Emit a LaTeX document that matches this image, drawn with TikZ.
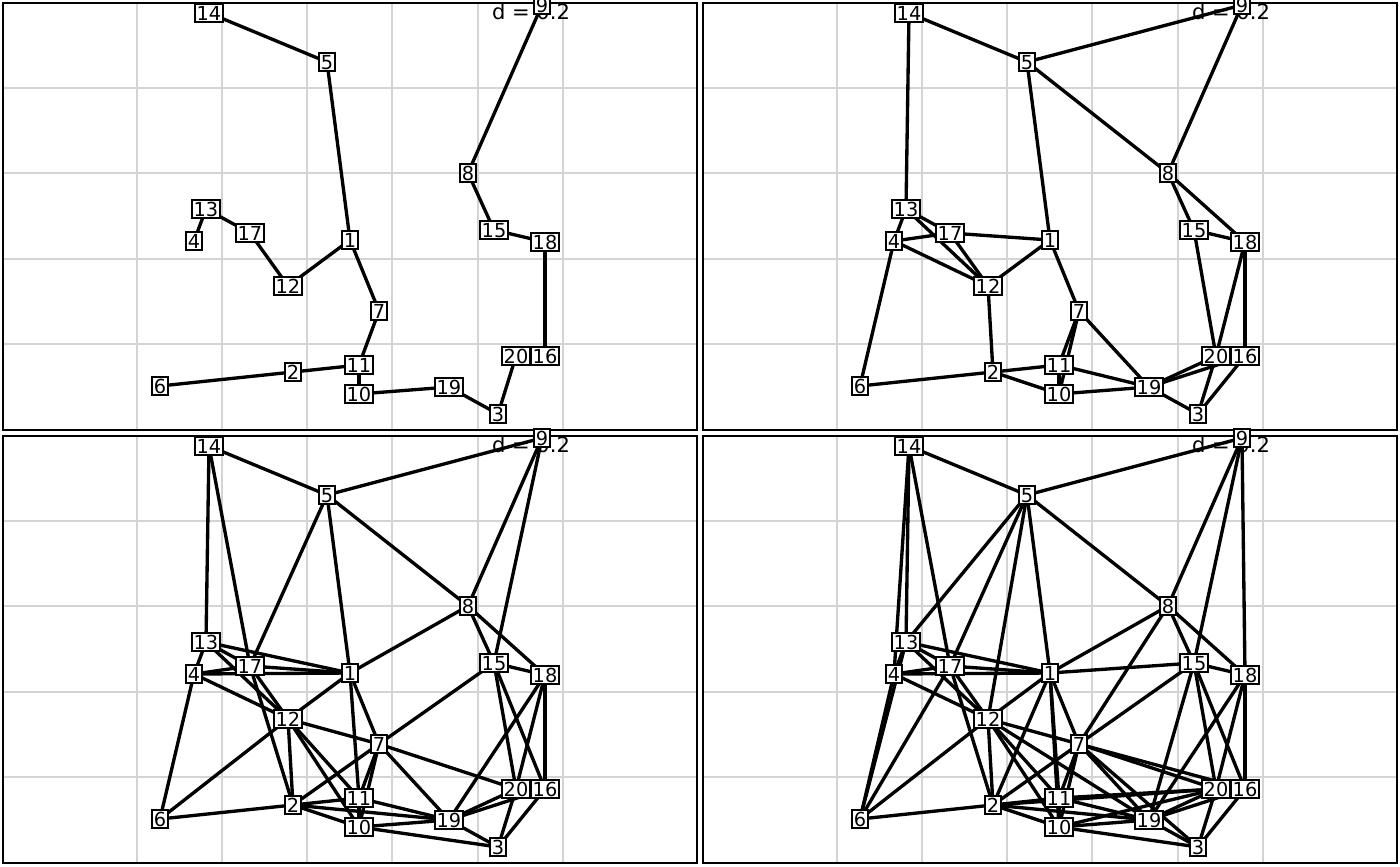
\documentclass[tikz,border=0pt]{standalone}
\usepackage{fontspec}
\setmainfont{DejaVu Sans}
\pgfdeclarelayer{bgl}
\pgfdeclarelayer{edgel}
\pgfsetlayers{bgl,edgel,main}
\tikzset{
  lab/.style={draw=black, line width=0.8pt, fill=white, inner xsep=1pt, inner ysep=1.1pt, text height=8pt, text depth=0pt, font=\fontsize{11}{12}\selectfont},
  edge/.style={line width=1.9pt, black},
  gridl/.style={line width=1.1pt, black!17},
  frame/.style={line width=1.1pt, black},
  dlab/.style={inner sep=0pt, font=\fontsize{12}{13}\selectfont}
}
\newcommand{\drawpanel}[4]{%
\begin{scope}[shift={(#2,#3)}]
  \begin{pgfonlayer}{bgl}
    \foreach \gx in {137,222,307,392,478,563} \draw[gridl] (\gx,3) -- (\gx,430);
    \foreach \gy in {88,173,259,344} \draw[gridl] (3,\gy) -- (697,\gy);
    \draw[frame] (3,3) rectangle (697,430);
    \node[dlab] (#1d) at (531,12) {d = 0.2};
  \end{pgfonlayer}
  \foreach \nn/\px/\py in {14/209/13,5/327/62,9/542/5,8/468/173,13/206/209,4/194/241,17/250/233,1/350/240,15/494/230,18/545/242,12/288/286,7/379/311,20/516/356,16/545/356,11/359/365,2/293/372,6/160/386,10/359/394,19/449/387,3/498/414}
    \node[lab] (#1\nn) at (\px,\py) {\nn};
  \begin{pgfonlayer}{edgel}
    \foreach \ea/\eb in {#4} \draw[edge] (#1\ea.center) -- (#1\eb.center);
  \end{pgfonlayer}
\end{scope}}
\begin{document}
\begin{tikzpicture}[x=0.02cm,y=-0.02cm]
\useasboundingbox (0,0) rectangle (1400,866);
\drawpanel{a}{0}{0}{14/5,5/1,9/8,8/15,15/18,18/16,16/20,20/3,3/19,19/10,10/11,11/2,2/6,11/7,7/1,1/12,12/17,17/13,13/4}
\drawpanel{b}{700}{0}{14/5,14/13,5/9,5/8,5/1,9/8,8/15,8/18,15/18,15/20,18/20,18/16,20/16,20/19,16/19,20/3,16/3,19/3,13/4,13/17,13/12,4/17,4/12,4/6,17/12,17/1,1/12,1/7,7/11,7/10,7/19,12/2,2/6,2/11,2/10,11/10,11/19,10/19}
\drawpanel{c}{0}{433}{14/5,14/13,14/17,5/9,5/8,5/1,5/17,9/8,9/15,8/15,8/18,8/1,15/18,15/7,15/20,15/16,18/20,18/16,18/19,20/16,20/19,16/19,20/3,16/3,19/3,7/20,13/4,13/17,13/12,13/1,4/17,4/1,4/12,4/6,17/1,17/12,17/2,1/12,1/7,1/11,12/7,12/6,12/2,12/11,12/10,7/2,7/11,7/10,7/19,2/6,2/11,2/10,2/19,11/10,11/19,10/19,10/3}
\drawpanel{d}{700}{433}{14/5,14/13,14/17,14/4,5/9,5/8,5/1,5/17,5/13,5/12,9/8,9/15,9/18,8/15,8/18,8/1,8/7,15/18,15/7,15/1,15/20,15/16,15/19,18/20,18/16,18/19,20/16,20/19,16/19,20/3,16/3,19/3,7/20,7/16,7/3,13/4,13/17,13/12,13/1,13/6,4/17,4/1,4/12,4/6,17/1,17/12,17/2,17/6,1/12,1/7,1/11,1/10,1/2,12/7,12/6,12/2,12/11,12/10,12/19,7/2,7/11,7/10,7/19,2/6,2/11,2/10,2/19,2/20,11/10,11/19,11/20,10/19,10/3,10/20}
\end{tikzpicture}
\end{document}
